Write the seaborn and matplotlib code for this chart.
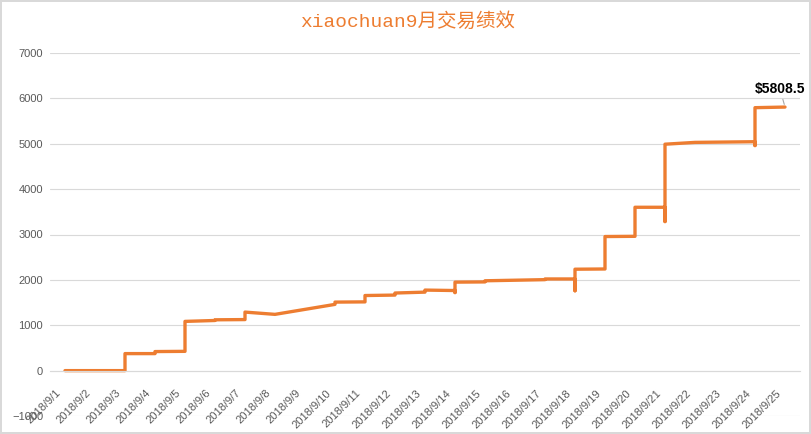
import pandas as pd
import numpy as np
import matplotlib.pyplot as plt
import seaborn as sns
from matplotlib.transforms import ScaledTranslation

# ------------------------------------------------------------
# Dados (saldo acumulado por dia, vários registros no mesmo dia)
# ------------------------------------------------------------
day_labels = [
    "2018/9/1", "2018/9/2", "2018/9/3", "2018/9/4", "2018/9/5",
    "2018/9/6", "2018/9/7", "2018/9/8", "2018/9/9", "2018/9/10",
    "2018/9/11", "2018/9/12", "2018/9/13", "2018/9/14", "2018/9/15",
    "2018/9/16", "2018/9/17", "2018/9/18", "2018/9/19", "2018/9/20",
    "2018/9/21", "2018/9/22", "2018/9/23", "2018/9/24", "2018/9/25",
]
day_num = list(range(1, 26))

trade_day = [1, 3, 3, 4, 4, 5, 5, 6, 6, 7, 7, 8, 10, 10, 11, 11, 12, 12,
             13, 13, 14, 14, 14, 15, 15, 17, 17, 18, 18, 18, 19, 19,
             20, 20, 21, 21, 21, 22, 24, 24, 24, 25]
balance = [0, 0, 375, 375, 420, 425, 1085, 1105, 1120, 1125, 1290, 1240,
           1460, 1510, 1515, 1655, 1665, 1710, 1730, 1775, 1765, 1720, 1950,
           1955, 1980, 2005, 2020, 2020, 1760, 2235, 2240, 2955, 2960, 3600,
           3600, 3285, 4990, 5030, 5045, 4960, 5795, 5808.5]

title = "xiaochuan9月交易绩效"
last_label = r"\$5808.5"
orange = "#ED7D31"

df = pd.DataFrame({"day": trade_day, "balance": balance})

# ------------------------------------------------------------
# Gráfico
# ------------------------------------------------------------
sns.set_style("white")
plt.rcParams["font.family"] = ["Liberation Sans", "DejaVu Sans"]

fig = plt.figure(figsize=(8.11, 4.34), dpi=100)
fig.patch.set_edgecolor("#D9D9D9")
fig.patch.set_linewidth(1.5)
ax = fig.add_axes([50 / 811, 18 / 434, 750 / 811, 363 / 434])

sns.lineplot(data=df, x="day", y="balance", sort=False, estimator=None,
             color=orange, linewidth=2.4, ax=ax)

ax.set_xlim(0.5, 25.5)
ax.set_ylim(-1000, 7000)
ax.set_yticks(np.arange(-1000, 7001, 1000))
ax.grid(axis="y", color="#D9D9D9", linewidth=0.8)
ax.set_xlabel("")
ax.set_ylabel("")

for s in ["left", "right", "top"]:
    ax.spines[s].set_visible(False)
ax.spines["bottom"].set_position(("data", 0))
ax.spines["bottom"].set_color("#D9D9D9")
ax.spines["bottom"].set_linewidth(0.8)

# marcas entre as categorias, rótulos no centro
ax.set_xticks(np.arange(0.5, 26, 1))
ax.set_xticklabels([])
ax.set_xticks(day_num, minor=True)
ax.set_xticklabels(day_labels, minor=True, rotation=45, ha="right",
                   rotation_mode="anchor", va="center")
ax.tick_params(axis="x", which="major", length=5, color="#D9D9D9", direction="out")
ax.tick_params(axis="x", which="minor", length=0, pad=15, labelsize=8,
               labelcolor="#595959")
ax.tick_params(axis="y", length=0, pad=5, labelsize=8, labelcolor="#595959")

shift = ScaledTranslation(-0.06, 0, fig.dpi_scale_trans)
for lab in ax.get_xticklabels(minor=True):
    lab.set_transform(lab.get_transform() + shift)

ax.annotate(last_label, xy=(day_num[-1], balance[-1]), xytext=(-5, 18),
            textcoords="offset pixels", ha="center", va="center",
            fontsize=10, fontweight="bold", color="black",
            arrowprops=dict(arrowstyle="-", color="#A6A6A6", lw=0.8,
                            shrinkA=0, shrinkB=2))

fig.text(0.502, 1 - 22 / 434, title, ha="center", va="center", fontsize=14,
         color=orange, family=["Liberation Mono", "Noto Sans CJK SC"])

fig.savefig("out.png", dpi=100)
